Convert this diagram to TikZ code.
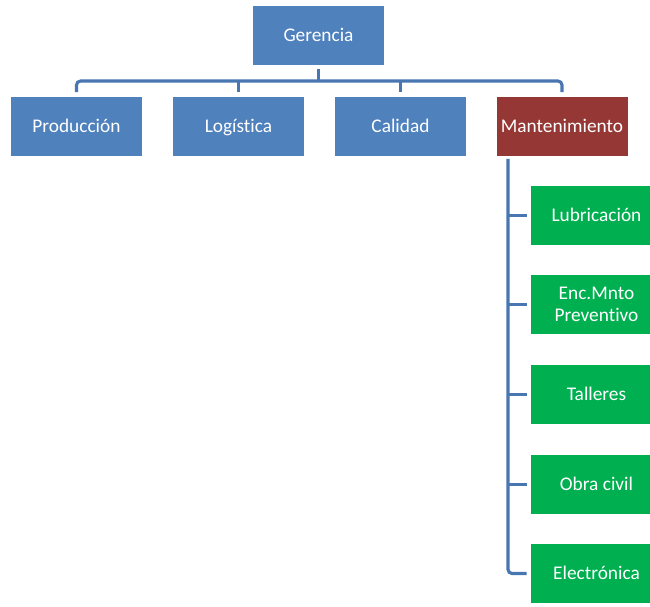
\documentclass[tikz,border=0pt]{standalone}
\usepackage{fontspec}
\setmainfont{Carlito}[Ligatures=NoCommon]
\definecolor{boxblue}{RGB}{79,129,189}
\definecolor{boxred}{RGB}{149,55,53}
\definecolor{boxgreen}{RGB}{0,176,80}
\definecolor{linecol}{RGB}{72,118,176}
\begin{document}
\begin{tikzpicture}[x=0.75pt,y=-0.75pt,
  box/.style={draw=none, minimum width=98.25pt, minimum height=44.25pt, text=white,
    font=\fontsize{14.5}{16.5}\selectfont, inner sep=0pt, align=center},
  oneline/.style={text height=12pt, text depth=2.5pt},
  bluebox/.style={box, oneline, fill=boxblue},
  redbox/.style={box, oneline, fill=boxred},
  greenbox/.style={box, fill=boxgreen},
  conn/.style={draw=linecol, line width=2.3pt}]
\clip (0,0) rectangle (650,607);
\useasboundingbox (0,0) rectangle (650,607);
\node[bluebox] (ger) at (318.5,35.5) {Gerencia};
\node[bluebox] (prod) at (76.5,126) {Producción};
\node[bluebox] (log) at (238.5,126) {Logística};
\node[bluebox] (cal) at (400.5,126) {Calidad};
\node[redbox] (mant) at (562,126) {Mantenimiento};
\node[greenbox, oneline] (lub) at (596.5,215.5) {Lubricación};
\node[greenbox] (enc) at (596.5,304.5) {Enc.Mnto\\Preventivo};
\node[greenbox, oneline] (tal) at (596.5,394.5) {Talleres};
\node[greenbox, oneline] (obra) at (596.5,484.5) {Obra civil};
\node[greenbox, oneline] (elec) at (596.5,573.5) {Electrónica};
\coordinate (bus) at (0,81);
\coordinate (vx) at (508,0);
\draw[conn, shorten <=3pt] (ger.south) -- (ger.south |- bus);
\draw[conn, rounded corners=3pt] ([yshift=3pt]prod.north) |- (mant.north |- bus) -- ([yshift=3pt]mant.north);
\draw[conn] ([yshift=3pt]log.north) -- (log.north |- bus);
\draw[conn] ([yshift=3pt]cal.north) -- (cal.north |- bus);
\path (mant.south -| vx) ++(0,3) coordinate (vtop);
\draw[conn, rounded corners=3pt] (vtop) |- ([xshift=-3pt]elec.west);
\draw[conn] (vtop |- lub.west) -- ([xshift=-3pt]lub.west);
\draw[conn] (vtop |- enc.west) -- ([xshift=-3pt]enc.west);
\draw[conn] (vtop |- tal.west) -- ([xshift=-3pt]tal.west);
\draw[conn] (vtop |- obra.west) -- ([xshift=-3pt]obra.west);
\end{tikzpicture}
\end{document}
